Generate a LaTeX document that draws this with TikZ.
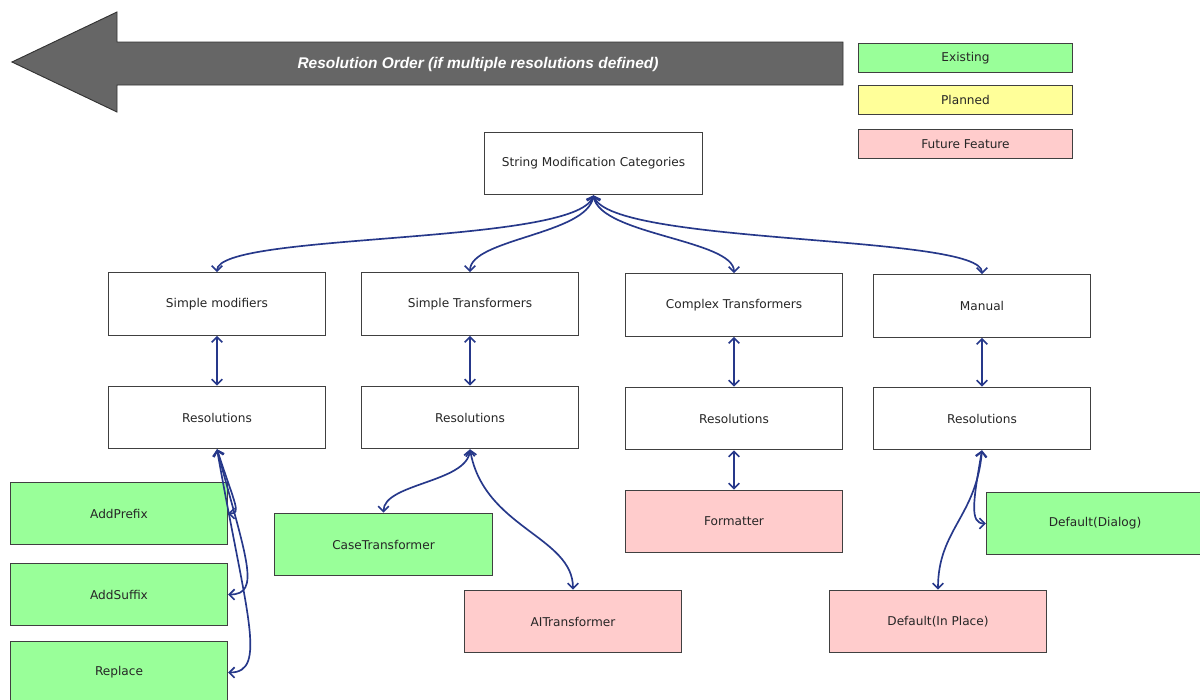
\documentclass[tikz,border=0pt]{standalone}
\usepackage{fontspec}
\setmainfont{DejaVu Sans}
\newfontfamily\titlefont{Liberation Sans}
\usetikzlibrary{arrows.meta}
\definecolor{existgreen}{RGB}{153,255,153}
\definecolor{planyellow}{RGB}{255,255,153}
\definecolor{futurepink}{RGB}{255,204,204}
\definecolor{linkblue}{RGB}{38,56,138}
\definecolor{ordergray}{RGB}{102,102,102}
\tikzset{
  box/.style={draw=black!75, line width=0.7pt, fill=white, minimum width=163pt, minimum height=47pt, inner sep=2pt, font=\fontsize{9.1}{11}\selectfont, text=black!85},
  existing/.style={box, fill=existgreen},
  future/.style={box, fill=futurepink},
  legend/.style={box, minimum width=161pt, minimum height=22pt},
  link/.style={draw=linkblue, line width=1.25pt, {Straight Barb[length=4pt,width=8pt]}-{Straight Barb[length=4pt,width=8pt]}}
}
\begin{document}
\begin{tikzpicture}[x=0.75pt,y=-0.75pt]
\clip (0,0) rectangle (1200,700);
\fill[white] (0,0) rectangle (1200,700);
\draw[fill=ordergray, draw=black!80, line width=0.7pt] (12,62) -- (117,12) -- (117,42) -- (843,42) -- (843,85) -- (117,85) -- (117,112) -- cycle;
\node[text=white, font=\titlefont\fontsize{11.6}{13}\selectfont\bfseries\itshape] (order) at (478,64) {Resolution Order (if multiple resolutions defined)};
\node[legend, fill=existgreen] (lexist) at (965.5,58) {Existing};
\node[legend, fill=planyellow] (lplan) at (965.5,100) {Planned};
\node[legend, fill=futurepink] (lfuture) at (965.5,144) {Future Feature};
\node[box] (root) at (593.5,163.5) {String Modification Categories};
\node[box] (simplemod) at (217,304) {Simple modifiers};
\node[box] (simpletr) at (470,304) {Simple Transformers};
\node[box] (complextr) at (734,305) {Complex Transformers};
\node[box] (manual) at (982,306) {Manual};
\node[box] (resmod) at (217,417.5) {Resolutions};
\node[box] (restr) at (470,417.5) {Resolutions};
\node[box] (rescomplex) at (734,418.5) {Resolutions};
\node[box] (resmanual) at (982,418.5) {Resolutions};
\node[existing] (addprefix) at (119,513.5) {AddPrefix};
\node[existing] (addsuffix) at (119,594.5) {AddSuffix};
\node[existing] (replace) at (119,672.5) {Replace};
\node[existing] (casetr) at (383.5,544.5) {CaseTransformer};
\node[future] (aitr) at (573,621.5) {AITransformer};
\node[future] (formatter) at (734,521.5) {Formatter};
\node[existing] (dialog) at (1095,523.5) {Default(Dialog)};
\node[future] (inplace) at (938,621.5) {Default(In Place)};
\draw[link] (root.south) to[out=-110,in=90,out distance=40pt,in distance=30pt] (simplemod.north);
\draw[link] (root.south) to[out=-100,in=90,out distance=30pt,in distance=25pt] (simpletr.north);
\draw[link] (root.south) to[out=-80,in=90,out distance=30pt,in distance=25pt] (complextr.north);
\draw[link] (root.south) to[out=-70,in=90,out distance=40pt,in distance=30pt] (manual.north);
\draw[link] (simplemod) -- (resmod);
\draw[link] (simpletr) -- (restr);
\draw[link] (complextr) -- (rescomplex);
\draw[link] (manual) -- (resmanual);
\draw[link] (resmod.south) to[out=-72,in=0,out distance=45pt,in distance=10pt] (addprefix.east);
\draw[link] (resmod.south) to[out=-75,in=0,out distance=85pt,in distance=25pt] (addsuffix.east);
\draw[link] (resmod.south) to[out=-80,in=0,out distance=125pt,in distance=30pt] (replace.east);
\draw[link] (restr.south) to[out=-95,in=90,out distance=25pt,in distance=22pt] (casetr.north);
\draw[link] (restr.south) to[out=-80,in=90,out distance=60pt,in distance=40pt] (aitr.north);
\draw[link] (rescomplex) -- (formatter);
\draw[link] (resmanual.south) to[out=-100,in=180,out distance=40pt,in distance=12pt] (dialog.west);
\draw[link] (resmanual.south) to[out=-95,in=90,out distance=50pt,in distance=45pt] (inplace.north);
\end{tikzpicture}
\end{document}
